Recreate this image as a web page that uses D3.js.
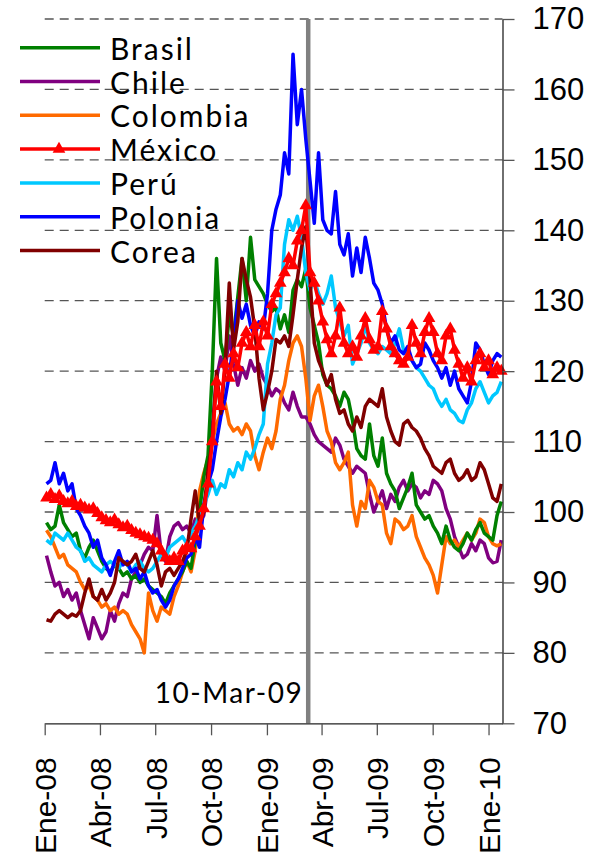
<!DOCTYPE html>
<html>
<head>
<meta charset="utf-8">
<script src="https://cdn.jsdelivr.net/npm/d3@7"></script>
<style>
	html, body { margin: 0; padding: 0; background: #fff; }
	svg { display: block; font-family: Lato, "Open Sans", sans-serif; }
</style>
</head>
<body>
<svg id="chart" width="598" height="858"></svg>
<script>
// weekly observations (Friday close)
const dates = [
	"2008-01-04","2008-01-11","2008-01-18","2008-01-25","2008-02-01","2008-02-08","2008-02-15","2008-02-22","2008-02-29",
	"2008-03-07","2008-03-14","2008-03-21","2008-03-28","2008-04-04","2008-04-11","2008-04-18","2008-04-25",
	"2008-05-02","2008-05-09","2008-05-16","2008-05-23","2008-05-30","2008-06-06","2008-06-13","2008-06-20","2008-06-27",
	"2008-07-04","2008-07-11","2008-07-18","2008-07-25","2008-08-01","2008-08-08","2008-08-15","2008-08-22","2008-08-29",
	"2008-09-05","2008-09-12","2008-09-19","2008-09-26","2008-10-03","2008-10-10","2008-10-17","2008-10-24","2008-10-31",
	"2008-11-07","2008-11-14","2008-11-21","2008-11-28","2008-12-05","2008-12-12","2008-12-19","2008-12-26",
	"2009-01-02","2009-01-09","2009-01-16","2009-01-23","2009-01-30","2009-02-06","2009-02-13","2009-02-20","2009-02-27",
	"2009-03-06","2009-03-13","2009-03-20","2009-03-27","2009-04-03","2009-04-10","2009-04-17","2009-04-24",
	"2009-05-01","2009-05-08","2009-05-15","2009-05-22","2009-05-29","2009-06-05","2009-06-12","2009-06-19","2009-06-26",
	"2009-07-03","2009-07-10","2009-07-17","2009-07-24","2009-07-31","2009-08-07","2009-08-14","2009-08-21","2009-08-28",
	"2009-09-04","2009-09-11","2009-09-18","2009-09-25","2009-10-02","2009-10-09","2009-10-16","2009-10-23","2009-10-30",
	"2009-11-06","2009-11-13","2009-11-20","2009-11-27","2009-12-04","2009-12-11","2009-12-18","2009-12-25",
	"2010-01-01","2010-01-08","2010-01-15","2010-01-22"
];

const brasil = [
	98.5,97.5,98,101,98.5,97.5,96.5,97,94.5,93.5,95,96,94.5,93,92,91.5,92.5,92,91,91.5,
	90.5,91,90,90.5,89.5,89,88.5,88,87,88.5,89.5,90.5,91.5,93,92,96,100,105,108,120,
	136,124,121.5,128,125,130.5,136,130,139,133,132,131,129.5,128.5,129,126,128,125.5,131.5,133,
	132,134.5,129,126.5,124,119.5,118,117.5,116.5,115,117,116,113,109,108,107.5,112.5,108,106.5,110.5,
	105.5,104,103,100.5,102,103.5,105.5,101,100,99,99.5,98,97,95.5,98,96,95,94.5,95.5,97,
	96,97.5,98.5,97,96.5,96,99.5,101.5
];
const chile = [
	93.8,91.5,89.5,90,88,89,87.5,88.5,86,84,82,85,83.5,82,83,86,84.5,87,88.5,88,
	90.5,91.5,92.5,94,95,94.5,99.5,94,93,96.5,98,98.5,97.5,98,97,99,98.5,99.5,104,112,
	119,122,120,125,121,118,120.5,119,121.5,120,121,119,118,116.5,117.5,117,115.5,114.5,117,115,
	113.5,113.5,112.5,111,110,109.5,109,108.5,110.5,109.5,107.5,106.5,105.5,106.5,106,105.5,102.5,100,101.5,103,
	100.5,102.5,101.5,103.5,104.5,103,104,103.5,102,103,102.5,104.5,104,103,100.5,99,96.5,95,93.5,94,
	95.5,94.5,96,95.5,93.5,92.8,93,96
];
const colombia = [
	97.4,96.5,95,93.5,94,92.5,92,91.5,90,89,89.5,88,87.5,86.5,87,86,86.5,85.5,86,85.5,
	84,83,82,80,88.5,86,84.5,86.5,86,85.5,88,89.5,91.5,93,91.5,94.5,103,105.5,107.5,110,
	112.5,114,115.5,112.5,111.5,112,111,112.5,111.5,108,106,108.5,110.5,109,111.5,116,118,121.5,124,125,
	123.5,119,113,116.5,118,115,111.5,110,107,106,107,108.5,101,98,101.5,100.5,104.5,103.5,101.5,101,
	97,95.5,99,98.5,97.5,98,99.5,96.5,95,93.5,92.5,91,88.5,92.5,96.5,95.5,96,95,96,97,
	96,97,99,98.5,96.5,95.5,95.2,95.5
];
const mexico = [
	102,102.5,101.8,102.3,101.5,101.2,101.5,100.8,101,100.6,100.3,100.5,99.8,99.2,98.8,98.5,98.9,98.2,97.8,98,
	97.4,97,96.8,96.5,96.3,96,95.5,94.5,93.5,93,93.5,93,94.5,95,94.8,96.5,98,100.5,104,110,
	118.5,115,121,119,122.5,120.5,124,125.5,123.5,126.5,123.5,127,125,129.5,131,132.5,134,136,135,138.5,
	140,143.5,134,132.5,130,127,124.5,122.5,125,129,124,122.5,123.5,122,125,127.5,124.5,123,123.5,128.5,
	126,123.5,122.5,121.5,121,122,126.5,124,122.5,125.5,127.5,125.5,122.5,121.5,125,126,123,121,119,120.5,
	118.5,121.5,122.5,120.5,121.5,119.5,120.5,120
];
const peru = [
	96,95.5,97,96.5,96,97,96,95,94.5,93,93.5,92.5,92,91.5,92.5,93,92.5,92,93,92.5,
	91.5,92.5,93,92,91.5,92,93,94,93.5,95,95.5,96,96.5,95.5,97,98,99.5,101,102.5,104.5,
	102.5,104,103.5,106,105,107,106,108.5,107.5,109,111,112.5,121,124,128,129,138,141.5,140,142,
	139,134,131.5,133,131,129.5,131,133.5,129,127,125,126.5,121,122.5,124,126.5,124,123,122.5,123.5,
	123,122.5,124,126,123,122.5,121.5,120.5,120,119,118,117.5,116,115,116,114.5,114,113,112.7,114.5,
	115.5,117.5,118.5,117,115.5,116.5,117,118.5
];
const polonia = [
	104,104.5,107,104,105.5,103,104,100.5,99.5,98,97,95,96,93.5,92.5,91,93,94.5,92.5,93,
	91.5,92,90.5,91.5,89.5,88.5,89,87.5,86.5,87.5,89.5,90.5,92,93.5,94,96.5,95,101,104,106,
	110,113.5,116,119.5,124,130,127.5,129.5,126.5,125,127,126,131,140,143,145,151,148,165,155,
	160,153,147,141,151,141.5,140,139.5,145.5,138,136.5,139.5,133.5,137.5,134,139,136,132.5,131.5,129.5,
	126,124,125,123,122.5,123.5,121.5,120.5,121,124,123,121.5,120.5,119,120.5,118,120,117.5,116.5,115.5,
	118.5,124,123,121,119.5,121.5,122.5,122
];
const corea = [
	84.7,84.5,85.5,86,85.5,85,85.5,85.2,86,88.5,90.5,88,87.5,89,87.5,88.5,90,93.5,93,92.5,
	93,94,92,91.5,93,94.5,92.5,89.5,91.5,92,91,92,93,94.5,99,103,98.5,100,106,110,
	120,114,120.5,132.5,123,127,136,133,130.5,126,119,114.5,117,120,124.5,124,125,123.5,128,133,
	137.5,140.5,133,124,121.5,120,118,119.5,116,114,114.5,112.5,111.5,113.5,112,115,116,115.5,115,117.5,
	113.5,111.5,110,109.5,112.5,113,112,111.5,110.5,109,108,106.5,106,105.5,107,107.5,105.5,104.5,105,106,
	104.5,105,107,106,104,102,101.5,104
];

const seriesNames = ["Brasil", "Chile", "Colombia", "México", "Perú", "Polonia", "Corea"];
const seriesValues = [brasil, chile, colombia, mexico, peru, polonia, corea];
const seriesColors = ["#008000", "#800080", "#ff6a00", "#ff0000", "#00c8ff", "#0000ff", "#800000"];
// drawing order: México on top
const drawOrder = ["Chile", "Colombia", "Brasil", "Perú", "Polonia", "Corea", "México"];

const yTicks = [70, 80, 90, 100, 110, 120, 130, 140, 150, 160, 170];
const xTickDates = ["2008-01-01","2008-04-01","2008-07-01","2008-10-01","2009-01-01","2009-04-01","2009-07-01","2009-10-01","2010-01-01"];
const xTickLabels = ["Ene-08","Abr-08","Jul-08","Oct-08","Ene-09","Abr-09","Jul-09","Oct-09","Ene-10"];
const eventDate = "2009-03-10";
const eventLabel = "10-Mar-09";

const parse = d3.utcParse("%Y-%m-%d");

const x = d3.scaleUtc()
	.domain([parse("2008-01-01"), parse("2010-01-24")])
	.range([44.7, 502.5]);
const y = d3.scaleLinear()
	.domain([70, 170])
	.range([723.3, 19]);

const svg = d3.select("#chart");

// dashed gridlines
svg.append("g")
	.selectAll("line")
	.data(yTicks.filter(v => v > 70))
	.join("line")
	.attr("x1", x.range()[0])
	.attr("x2", x.range()[1])
	.attr("y1", d => y(d))
	.attr("y2", d => y(d))
	.attr("stroke", "#555")
	.attr("stroke-width", 1.3)
	.attr("stroke-dasharray", "9,6");

// event marker
svg.append("line")
	.attr("x1", x(parse(eventDate)))
	.attr("x2", x(parse(eventDate)))
	.attr("y1", y(170))
	.attr("y2", y(70))
	.attr("stroke", "#808080")
	.attr("stroke-width", 4.5);

svg.append("text")
	.attr("x", x(parse(eventDate)) - 5)
	.attr("y", 703)
	.attr("text-anchor", "end")
	.attr("font-size", 28)
	.attr("letter-spacing", 1.5)
	.text(eventLabel);

const line = d3.line()
	.x((d, i) => x(parse(dates[i])))
	.y(d => y(d));

drawOrder.forEach(name => {
	const k = seriesNames.indexOf(name);
	svg.append("path")
		.datum(seriesValues[k])
		.attr("fill", "none")
		.attr("stroke", seriesColors[k])
		.attr("stroke-width", 3.5)
		.attr("stroke-linejoin", "round")
		.attr("d", line);
	if (name === "México") {
		svg.append("g")
			.selectAll("path")
			.data(seriesValues[k])
			.join("path")
			.attr("transform", (d, i) => `translate(${x(parse(dates[i]))},${y(d)})`)
			.attr("d", d3.symbol(d3.symbolTriangle, 70))
			.attr("fill", seriesColors[k]);
	}
});

// x axis
const xAxis = svg.append("g")
	.attr("transform", `translate(0,${y(70)})`)
	.call(d3.axisBottom(x)
		.tickValues(xTickDates.map(parse))
		.tickFormat((d, i) => xTickLabels[i])
		.tickSize(12)
		.tickSizeOuter(0));
xAxis.select(".domain").attr("stroke", "#222").attr("stroke-width", 1.3);
xAxis.selectAll(".tick line").attr("stroke", "#555").attr("stroke-width", 1.3);
xAxis.selectAll("text")
	.attr("font-size", 30)
	.attr("fill", "#000")
	.attr("y", 0)
	.attr("x", -34)
	.attr("dy", "0.36em")
	.attr("transform", "rotate(-90)")
	.style("text-anchor", "end");

// y axis on the right
const yAxis = svg.append("g")
	.attr("transform", `translate(${x.range()[1]},0)`)
	.call(d3.axisRight(y)
		.tickValues(yTicks)
		.tickSize(12)
		.tickPadding(18)
		.tickSizeOuter(0));
yAxis.select(".domain").attr("stroke", "#222").attr("stroke-width", 1.3);
yAxis.selectAll(".tick line").attr("stroke", "#555").attr("stroke-width", 1.3);
yAxis.selectAll("text")
	.attr("font-size", 31)
	.attr("fill", "#000");

// legend
const legend = svg.append("g");
seriesNames.forEach((name, i) => {
	const ly = 47.7 + i * 33.8;
	legend.append("line")
		.attr("x1", 20).attr("x2", 100)
		.attr("y1", ly).attr("y2", ly)
		.attr("stroke", seriesColors[i])
		.attr("stroke-width", 3.5);
	if (name === "México") {
		legend.append("path")
			.attr("transform", `translate(59,${ly})`)
			.attr("d", d3.symbol(d3.symbolTriangle, 70))
			.attr("fill", seriesColors[i]);
	}
	legend.append("text")
		.attr("x", 110)
		.attr("y", ly + 12)
		.attr("font-size", 30)
		.attr("letter-spacing", 2)
		.text(name);
});
</script>
</body>
</html>
